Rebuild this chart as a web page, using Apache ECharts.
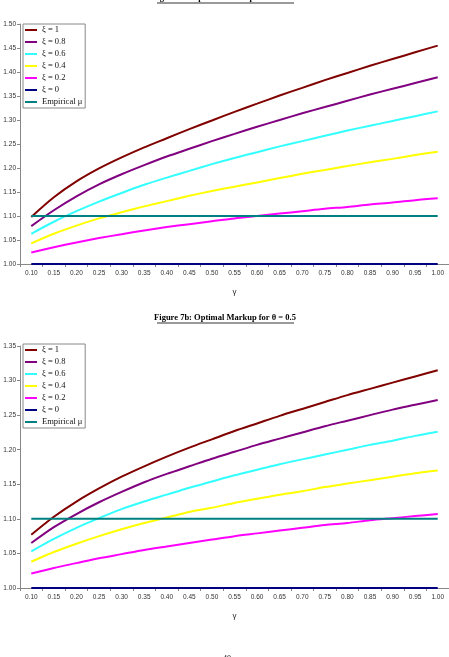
<!DOCTYPE html>
<html>
<head>
<meta charset="utf-8">
<script src="https://cdn.jsdelivr.net/npm/echarts@6/dist/echarts.min.js"></script>
<style>
  html, body { margin: 0; padding: 0; background: #fff; }
  #chart { width: 449px; height: 657px; }
</style>
</head>
<body>
<div id="chart"></div>
<script>
const gammas = ['0.10', '0.15', '0.20', '0.25', '0.30', '0.35', '0.40', '0.45', '0.50', '0.55',
  '0.60', '0.65', '0.70', '0.75', '0.80', '0.85', '0.90', '0.95', '1.00'];
const seriesNames = ['ξ = 1', 'ξ = 0.8', 'ξ = 0.6', 'ξ = 0.4', 'ξ = 0.2', 'ξ = 0', 'Empirical μ'];
const seriesColors = ['#800000', '#800080', '#33ffff', '#ffff00', '#ff00ff', '#000080', '#008080'];

// Figure 7a: theta = 0.25
const a_xi1 = [1.098, 1.139, 1.172, 1.199, 1.222, 1.243, 1.262, 1.281, 1.299, 1.317,
  1.334, 1.351, 1.367, 1.383, 1.398, 1.413, 1.427, 1.441, 1.455];
const a_xi08 = [1.079, 1.112, 1.141, 1.166, 1.187, 1.206, 1.224, 1.240, 1.256, 1.271,
  1.286, 1.300, 1.314, 1.327, 1.340, 1.353, 1.365, 1.377, 1.389];
const a_xi06 = [1.063, 1.088, 1.110, 1.130, 1.148, 1.165, 1.180, 1.194, 1.208, 1.221,
  1.233, 1.245, 1.256, 1.267, 1.278, 1.288, 1.298, 1.308, 1.318];
const a_xi04 = [1.043, 1.063, 1.080, 1.095, 1.108, 1.120, 1.131, 1.142, 1.152, 1.161,
  1.170, 1.179, 1.188, 1.196, 1.204, 1.212, 1.219, 1.227, 1.234];
const a_xi02 = [1.024, 1.035, 1.045, 1.054, 1.062, 1.070, 1.077, 1.083, 1.089, 1.095,
  1.100, 1.105, 1.110, 1.115, 1.119, 1.124, 1.128, 1.133, 1.137];
const a_xi0 = [1, 1, 1, 1, 1, 1, 1, 1, 1, 1, 1, 1, 1, 1, 1, 1, 1, 1, 1];
const a_emp = [1.1, 1.1, 1.1, 1.1, 1.1, 1.1, 1.1, 1.1, 1.1, 1.1, 1.1, 1.1, 1.1, 1.1, 1.1, 1.1, 1.1, 1.1, 1.1];

// Figure 7b: theta = 0.5
const b_xi1 = [1.077, 1.103, 1.125, 1.144, 1.161, 1.176, 1.190, 1.203, 1.215, 1.227,
  1.238, 1.249, 1.259, 1.269, 1.279, 1.288, 1.297, 1.306, 1.315];
const b_xi08 = [1.065, 1.088, 1.107, 1.124, 1.139, 1.153, 1.165, 1.176, 1.187, 1.197,
  1.207, 1.216, 1.225, 1.234, 1.242, 1.250, 1.258, 1.265, 1.272];
const b_xi06 = [1.053, 1.071, 1.087, 1.101, 1.114, 1.125, 1.135, 1.145, 1.154, 1.163,
  1.171, 1.179, 1.186, 1.193, 1.200, 1.207, 1.213, 1.220, 1.226];
const b_xi04 = [1.038, 1.052, 1.064, 1.075, 1.085, 1.094, 1.102, 1.110, 1.116, 1.123,
  1.129, 1.135, 1.140, 1.146, 1.151, 1.156, 1.161, 1.166, 1.170];
const b_xi02 = [1.021, 1.029, 1.036, 1.043, 1.049, 1.055, 1.060, 1.065, 1.070, 1.075,
  1.079, 1.083, 1.087, 1.091, 1.094, 1.098, 1.101, 1.104, 1.107];
const b_xi0 = [1, 1, 1, 1, 1, 1, 1, 1, 1, 1, 1, 1, 1, 1, 1, 1, 1, 1, 1];
const b_emp = [1.1, 1.1, 1.1, 1.1, 1.1, 1.1, 1.1, 1.1, 1.1, 1.1, 1.1, 1.1, 1.1, 1.1, 1.1, 1.1, 1.1, 1.1, 1.1];

const seriesA = [a_xi1, a_xi08, a_xi06, a_xi04, a_xi02, a_xi0, a_emp];
const seriesB = [b_xi1, b_xi08, b_xi06, b_xi04, b_xi02, b_xi0, b_emp];

const sans = 'Liberation Sans';
const serif = 'Liberation Serif';

function makeXAxis(gridIndex) {
  return {
    type: 'category',
    gridIndex,
    data: gammas,
    boundaryGap: true,
    name: 'γ',
    nameLocation: 'middle',
    nameGap: 24,
    nameTextStyle: { color: '#222', fontSize: 8, fontFamily: sans },
    axisLine: { lineStyle: { color: '#888', width: 1 } },
    axisTick: { show: true, interval: 0, length: 3, lineStyle: { color: '#888' } },
    axisLabel: { interval: 0, color: '#333', fontSize: 6.5, fontFamily: sans, margin: 6 },
    splitLine: { show: false },
  };
}

function makeYAxis(gridIndex, max) {
  return {
    type: 'value',
    gridIndex,
    min: 1,
    max,
    interval: 0.05,
    axisLine: { show: true, lineStyle: { color: '#888', width: 1 } },
    axisTick: { show: true, length: 3, lineStyle: { color: '#888' } },
    axisLabel: {
      color: '#333',
      fontSize: 6.5,
      fontFamily: sans,
      margin: 4,
      formatter: (v) => v.toFixed(2),
    },
    splitLine: { show: false },
  };
}

function makeLegend(top) {
  return {
    data: seriesNames,
    orient: 'vertical',
    left: 23,
    top,
    icon: 'rect',
    itemWidth: 12,
    itemHeight: 2,
    itemGap: 2,
    padding: [1, 3, 1, 2],
    borderColor: '#888',
    borderWidth: 1,
    backgroundColor: '#fff',
    selectedMode: false,
    textStyle: { fontFamily: serif, fontSize: 8.5, color: '#111', lineHeight: 10 },
  };
}

function makeSeries(dataSets, idx) {
  return dataSets.map((d, i) => ({
    name: seriesNames[i],
    type: 'line',
    xAxisIndex: idx,
    yAxisIndex: idx,
    data: d,
    smooth: 0.3,
    showSymbol: false,
    symbol: 'none',
    animation: false,
    lineStyle: { color: seriesColors[i], width: 2 },
    itemStyle: { color: seriesColors[i] },
  }));
}

function titleText(text, y) {
  return [
    {
      type: 'text',
      x: 225,
      y,
      style: {
        text,
        fill: '#000',
        font: 'bold 8.5px "Liberation Serif"',
        textAlign: 'center',
        textVerticalAlign: 'bottom',
      },
    },
    {
      type: 'line',
      shape: { x1: 157, y1: y + 1, x2: 294, y2: y + 1 },
      style: { stroke: '#000', lineWidth: 0.8 },
    },
  ];
}

const chart = echarts.init(document.getElementById('chart'), null, { renderer: 'canvas' });

const option = {
  backgroundColor: '#fff',
  animation: false,
  grid: [
    { left: 20, top: 24, width: 432, height: 240 },
    { left: 20, top: 346, width: 432, height: 242 },
  ],
  xAxis: [makeXAxis(0), makeXAxis(1)],
  yAxis: [makeYAxis(0, 1.5), makeYAxis(1, 1.35)],
  legend: [makeLegend(24), makeLegend(344)],
  graphic: [
    ...titleText('Figure 7a: Optimal Markup for θ = 0.25', 2),
    ...titleText('Figure 7b: Optimal Markup for θ = 0.5', 322),
    {
      type: 'text',
      x: 227,
      y: 655,
      style: { text: '40', fill: '#000', font: '8px "Liberation Serif"', textAlign: 'center' },
    },
  ],
  series: [...makeSeries(seriesA, 0), ...makeSeries(seriesB, 1)],
};

chart.setOption(option);
</script>
</body>
</html>
